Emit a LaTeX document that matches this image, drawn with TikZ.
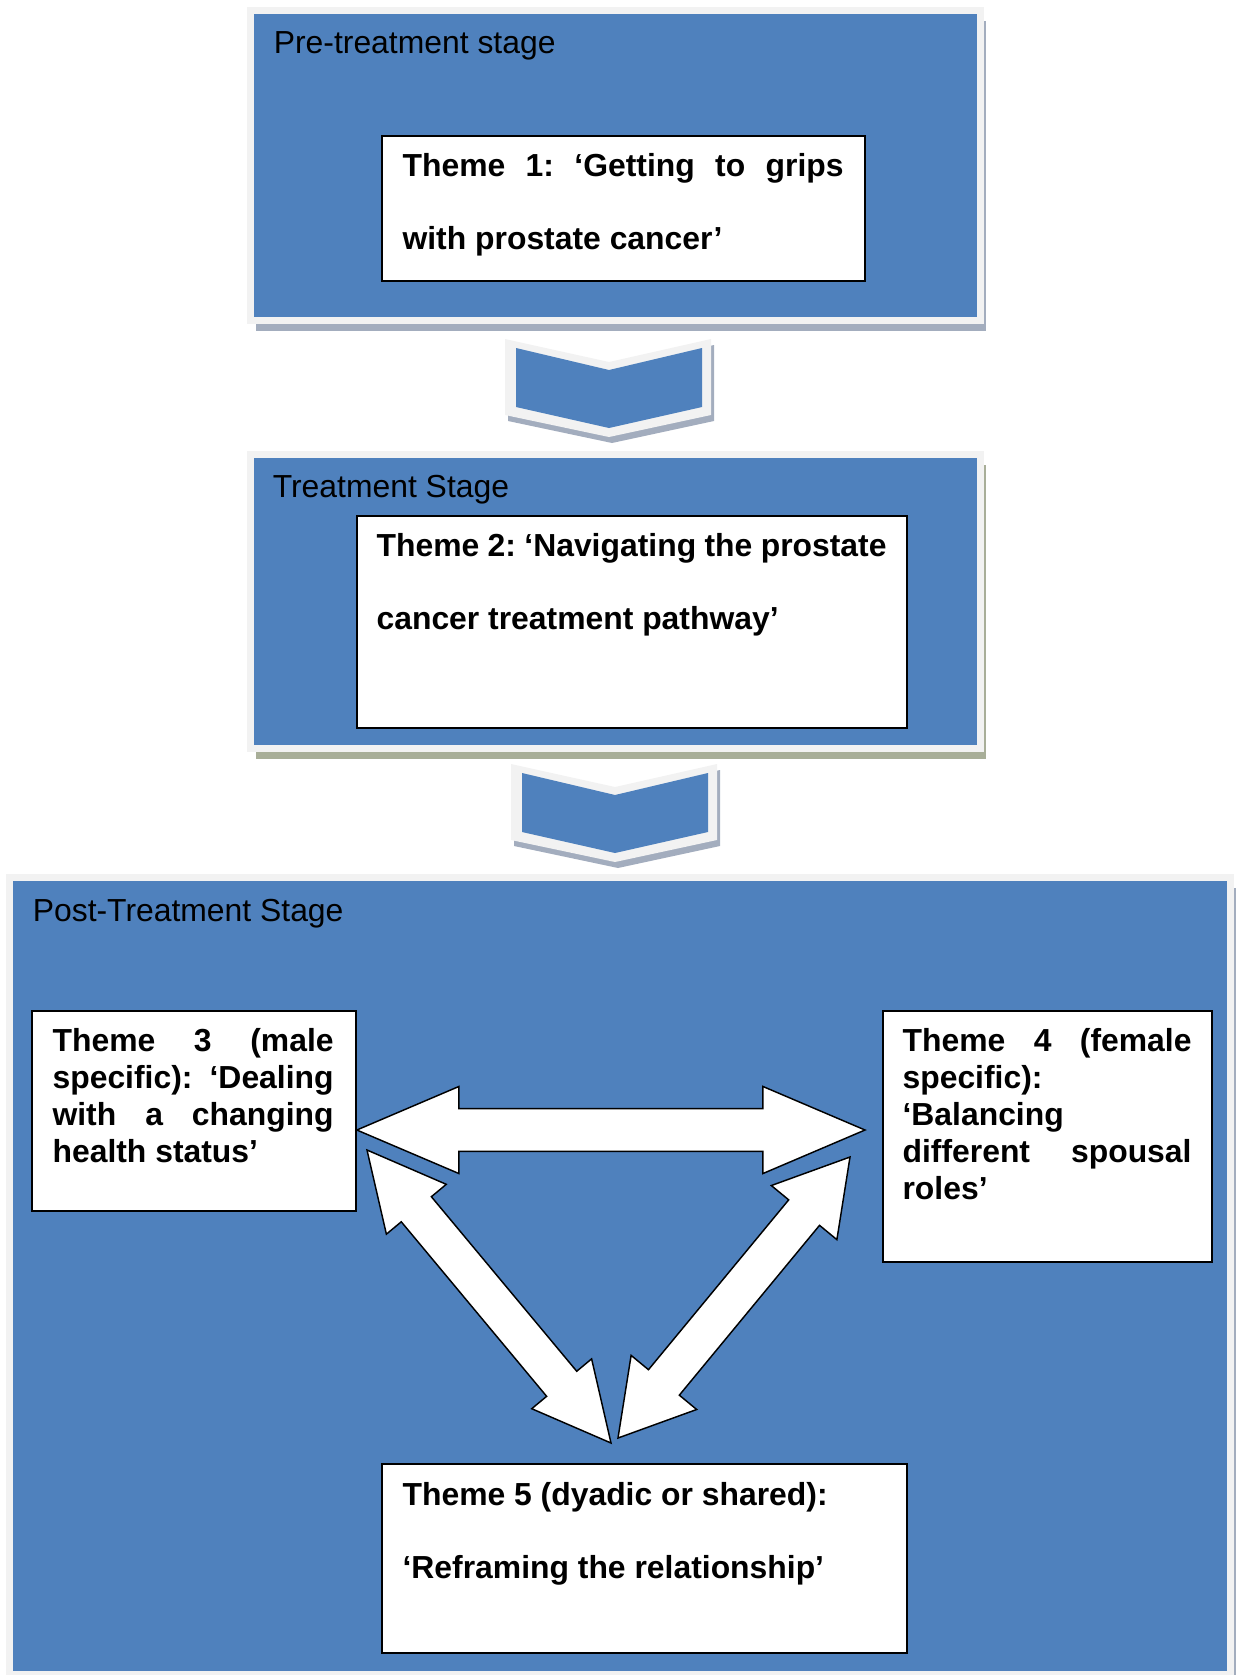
\documentclass[tikz,border=0pt]{standalone}
\usepackage{fontspec}
\setmainfont{Liberation Sans}
\usetikzlibrary{calc,fit,shadows}
\frenchspacing

\definecolor{stageblue}{HTML}{4F81BD}
\definecolor{framegray}{HTML}{F2F2F2}
\definecolor{shadowblue}{HTML}{A3ADBE}
\definecolor{shadowolive}{HTML}{A8AE98}

\newcommand{\stagefont}{\fontsize{15.3pt}{18pt}\selectfont}
\newcommand{\themefont}{\fontsize{15.3pt}{17.8pt}\selectfont\bfseries}
\newcommand{\widethemefont}{\fontsize{15.3pt}{35pt}\selectfont\bfseries}

% block arrow with a head at both ends: from, to, head length, head half width, shaft half width
\newcommand{\twowayarrow}[5]{%
  \draw[fatarrow] let \p1=($(#2)-(#1)$), \n1={atan2(\y1,\x1)} in
    (#1) -- ($(#1)+(\n1:#3)+(\n1+90:#4)$) -- ($(#1)+(\n1:#3)+(\n1+90:#5)$)
    -- ($(#2)+(\n1+180:#3)+(\n1+90:#5)$) -- ($(#2)+(\n1+180:#3)+(\n1+90:#4)$)
    -- (#2) -- ($(#2)+(\n1+180:#3)+(\n1-90:#4)$) -- ($(#2)+(\n1+180:#3)+(\n1-90:#5)$)
    -- ($(#1)+(\n1:#3)+(\n1-90:#5)$) -- ($(#1)+(\n1:#3)+(\n1-90:#4)$) -- cycle;}

\begin{document}
\begin{tikzpicture}[x=0.48pt,y=-0.48pt,
		stagebox/.style={fill=stageblue,draw=framegray,line width=3.4pt,inner sep=1.7pt,
			drop shadow={shadow xshift=2.6pt,shadow yshift=-5pt,fill=#1,opacity=1}},
		stagebox/.default=shadowblue,
		stagelabel/.style={anchor=base west,inner sep=0pt,font=\stagefont},
		themebox/.style={fill=white,draw=black,line width=0.8pt,inner sep=0pt,
			drop shadow={shadow xshift=0.6pt,shadow yshift=-0.6pt,fill=black!80,opacity=1}},
		themetext/.style={anchor=base west,inner sep=0pt,font=\themefont,align=justify,text width=#1},
		fatarrow/.style={fill=white,draw=black,line width=0.7pt,line join=miter},
		chevron/.pic={
			\fill[shadowblue] (-101,-25) -- (3,-2) -- (105,-25) -- (105,51) -- (3,73) -- (-101,51) -- cycle;
			\fill[framegray] (-104,-31) -- (0,-8) -- (102,-31) -- (102,45) -- (0,67) -- (-104,45) -- cycle;
			\fill[stageblue] (-93,-22) -- (0,0) -- (93,-22) -- (93,37) -- (0,58) -- (-93,37) -- cycle;
		}]
		\useasboundingbox (0,0) rectangle (1241,1675);

		% stages
		\node[stagebox,fit={(254,14) (977,317)}] (pre) {};
		\node[stagebox=shadowolive,fit={(254,458) (977,745)}] (treat) {};
		\node[stagebox,fit={(13,881) (1227,1671)}] (post) {};
		\node[stagelabel] (prelabel) at ($(pre.north west)+(26.5,47)$) {Pre-treatment stage};
		\node[stagelabel] (treatlabel) at ($(treat.north west)+(25.5,47)$) {Treatment Stage};
		\node[stagelabel] (postlabel) at ($(post.north west)+(26.5,48)$) {Post-Treatment Stage};

		\pic at (609,370) {chevron};
		\pic at (615,795) {chevron};

		% themes
		\node[themebox,fit={(382,136) (865,281)}] (t1) {};
		\node[themebox,fit={(357,516) (907,728)}] (t2) {};
		\node[themebox,fit={(32,1011) (356,1211)}] (t3) {};
		\node[themebox,fit={(883,1011) (1212,1262)}] (t4) {};
		\node[themebox,fit={(382,1464) (907,1653)}] (t5) {};

		\node[themetext=211.7pt,font=\widethemefont] (t1txt) at ($(t1.north west)+(21,41)$)
			{Theme 1: ‘Getting to grips\linebreak with prostate cancer’};
		\node[themetext=244.8pt,font=\widethemefont] (t2txt) at ($(t2.north west)+(20,41)$)
			{Theme 2: ‘Navigating the prostate\linebreak cancer treatment pathway’};
		\node[themetext=134.9pt] (t3txt) at ($(t3.north west)+(21,41)$)
			{Theme 3 (male\linebreak specific): ‘Dealing\linebreak with a changing\linebreak health status’};
		\node[themetext=138.7pt] (t4txt) at ($(t4.north west)+(20,41)$)
			{Theme 4 (female\linebreak specific):\\ ‘Balancing\\ different spousal\linebreak roles’};
		\node[themetext=231pt,font=\widethemefont] (t5txt) at ($(t5.north west)+(21,42)$)
			{Theme 5 (dyadic or shared):\\ ‘Reframing the relationship’};

		% links between themes 3, 4 and 5
		\coordinate (hleft) at ($(t3.east)+(0,19)$);
		\coordinate (hright) at (865,1130);
		\coordinate (ltop) at (367,1150);
		\coordinate (lbot) at (611,1443);
		\coordinate (rtop) at (850,1157);
		\coordinate (rbot) at (618,1438);
		\twowayarrow{hleft}{hright}{49pt}{20.9pt}{10.3pt}
		\twowayarrow{ltop}{lbot}{37pt}{18.7pt}{9.4pt}
		\twowayarrow{rtop}{rbot}{34.6pt}{20.4pt}{9.6pt}
	\end{tikzpicture}
\end{document}
